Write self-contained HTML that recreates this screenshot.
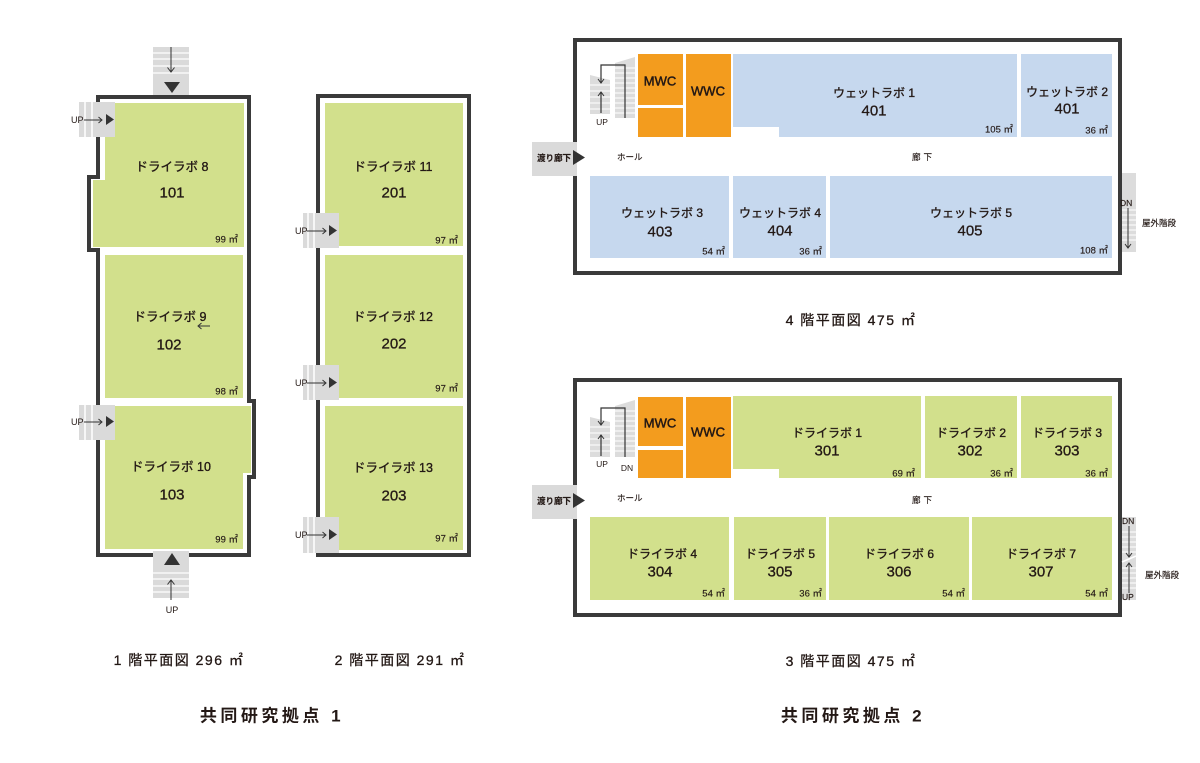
<!DOCTYPE html>
<html><head><meta charset="utf-8">
<style>
html,body{margin:0;padding:0;background:#fff;}
svg{display:block;}
text{font-family:"Liberation Sans","Noto Sans CJK JP",sans-serif;fill:#231815;}
.k{font-size:12.5px;text-anchor:middle;dominant-baseline:central;stroke:#231815;stroke-width:0.35px;}
.k2{font-size:12px;text-anchor:middle;dominant-baseline:central;stroke:#231815;stroke-width:0.35px;}
.n{font-size:15px;text-anchor:middle;dominant-baseline:central;stroke:#231815;stroke-width:0.3px;}
.a{font-size:9.5px;text-anchor:end;dominant-baseline:central;stroke:#231815;stroke-width:0.15px;}
.s{font-size:8.5px;dominant-baseline:central;stroke:#231815;stroke-width:0.15px;}
.sm{font-size:8.5px;text-anchor:middle;dominant-baseline:central;}
.up{font-size:9px;dominant-baseline:central;}
.wc{font-size:13px;text-anchor:middle;dominant-baseline:central;stroke:#231815;stroke-width:0.45px;}
.cap{font-size:14px;text-anchor:middle;dominant-baseline:central;letter-spacing:1.5px;stroke:#231815;stroke-width:0.3px;}
.ttl{font-size:17px;font-weight:bold;text-anchor:middle;dominant-baseline:central;letter-spacing:3.5px;}
</style></head><body>
<svg width="1200" height="763" viewBox="0 0 1200 763" xmlns="http://www.w3.org/2000/svg">
<rect x="0" y="0" width="1200" height="763" fill="#fff"/>

<!-- ===== 1F building ===== -->
<polygon points="105,103 244,103 244,247 93,247 93,180 105,180" fill="#d2e08c"/>
<rect x="105" y="255" width="138" height="143" fill="#d2e08c"/>
<polygon points="105,406 251,406 251,473 243,473 243,549 105,549" fill="#d2e08c"/>
<path d="M98,97 H249 V401 H254 V477 H249 V555 H98 V250 H89 V177 H98 Z" fill="none" stroke="#3a3a3a" stroke-width="4" stroke-linejoin="miter"/>

<!-- top stair -->
<rect x="153" y="47" width="36" height="48" fill="#dadada"/>
<g stroke="#fff" stroke-width="1.3"><line x1="153" y1="53" x2="189" y2="53"/><line x1="153" y1="59" x2="189" y2="59"/><line x1="153" y1="66" x2="189" y2="66"/><line x1="153" y1="73" x2="189" y2="73"/></g>
<line x1="171" y1="47" x2="171" y2="72" stroke="#333" stroke-width="1"/>
<polyline points="167.5,67.5 171,72 174.5,67.5" fill="none" stroke="#333" stroke-width="1"/>
<polygon points="164,82 180,82 172,93" fill="#333"/>

<!-- bottom stair -->
<rect x="153" y="551" width="36" height="47" fill="#dadada"/>
<g stroke="#fff" stroke-width="1.3"><line x1="153" y1="573" x2="189" y2="573"/><line x1="153" y1="579" x2="189" y2="579"/><line x1="153" y1="586" x2="189" y2="586"/><line x1="153" y1="592" x2="189" y2="592"/></g>
<polygon points="164,565 180,565 172,553" fill="#333"/>
<line x1="171" y1="580" x2="171" y2="600" stroke="#333" stroke-width="1"/>
<polyline points="167.5,584.5 171,580 174.5,584.5" fill="none" stroke="#333" stroke-width="1"/>
<text class="up" x="172" y="610" text-anchor="middle">UP</text>

<!-- left UP stairs 1F -->
<g>
<rect x="79" y="102" width="36" height="35" fill="#dadada"/>
<line x1="85" y1="102" x2="85" y2="137" stroke="#fff" stroke-width="1.5"/>
<line x1="92" y1="102" x2="92" y2="137" stroke="#fff" stroke-width="1.5"/>
<line x1="84" y1="120" x2="102" y2="120" stroke="#333" stroke-width="1"/>
<polyline points="98.5,117 102,120 98.5,123" fill="none" stroke="#333" stroke-width="1"/>
<polygon points="106,114 114,119.5 106,125" fill="#333"/>
<text class="up" x="71" y="120">UP</text>
</g>
<g>
<rect x="79" y="405" width="36" height="35" fill="#dadada"/>
<line x1="85" y1="405" x2="85" y2="440" stroke="#fff" stroke-width="1.5"/>
<line x1="92" y1="405" x2="92" y2="440" stroke="#fff" stroke-width="1.5"/>
<line x1="84" y1="422" x2="102" y2="422" stroke="#333" stroke-width="1"/>
<polyline points="98.5,419 102,422 98.5,425" fill="none" stroke="#333" stroke-width="1"/>
<polygon points="106,416 114,421.5 106,427" fill="#333"/>
<text class="up" x="71" y="422">UP</text>
</g>

<text class="k" x="172" y="167">ドライラボ 8</text>
<text class="n" x="172" y="193">101</text>
<text class="a" x="238" y="240">99 ㎡</text>
<text class="k" x="170" y="317">ドライラボ 9</text>
<line x1="198" y1="326" x2="210" y2="326" stroke="#333" stroke-width="1"/>
<polyline points="201.5,323 198,326 201.5,329" fill="none" stroke="#333" stroke-width="1"/>
<text class="n" x="169" y="345">102</text>
<text class="a" x="238" y="392">98 ㎡</text>
<text class="k" x="171" y="467">ドライラボ 10</text>
<text class="n" x="172" y="495">103</text>
<text class="a" x="238" y="540">99 ㎡</text>

<!-- ===== 2F building ===== -->
<rect x="325" y="103" width="138" height="143" fill="#d2e08c"/>
<rect x="325" y="255" width="138" height="143" fill="#d2e08c"/>
<rect x="325" y="406" width="138" height="144" fill="#d2e08c"/>
<rect x="318" y="96" width="151" height="459" fill="none" stroke="#3a3a3a" stroke-width="4"/>

<g>
<rect x="303" y="213" width="36" height="35" fill="#dadada"/>
<line x1="308" y1="213" x2="308" y2="248" stroke="#fff" stroke-width="1.5"/>
<line x1="314" y1="213" x2="314" y2="248" stroke="#fff" stroke-width="1.5"/>
<line x1="307" y1="231" x2="326" y2="231" stroke="#333" stroke-width="1"/>
<polyline points="322.5,228 326,231 322.5,234" fill="none" stroke="#333" stroke-width="1"/>
<polygon points="329,225 337,230.5 329,236" fill="#333"/>
<text class="up" x="295" y="231">UP</text>
</g>
<g>
<rect x="303" y="365" width="36" height="35" fill="#dadada"/>
<line x1="308" y1="365" x2="308" y2="400" stroke="#fff" stroke-width="1.5"/>
<line x1="314" y1="365" x2="314" y2="400" stroke="#fff" stroke-width="1.5"/>
<line x1="307" y1="383" x2="326" y2="383" stroke="#333" stroke-width="1"/>
<polyline points="322.5,380 326,383 322.5,386" fill="none" stroke="#333" stroke-width="1"/>
<polygon points="329,377 337,382.5 329,388" fill="#333"/>
<text class="up" x="295" y="383">UP</text>
</g>
<g>
<rect x="303" y="517" width="36" height="36" fill="#dadada"/>
<line x1="308" y1="517" x2="308" y2="553" stroke="#fff" stroke-width="1.5"/>
<line x1="314" y1="517" x2="314" y2="553" stroke="#fff" stroke-width="1.5"/>
<line x1="307" y1="535" x2="326" y2="535" stroke="#333" stroke-width="1"/>
<polyline points="322.5,532 326,535 322.5,538" fill="none" stroke="#333" stroke-width="1"/>
<polygon points="329,529 337,534.5 329,540" fill="#333"/>
<text class="up" x="295" y="535">UP</text>
</g>

<text class="k" x="393" y="167">ドライラボ 11</text>
<text class="n" x="394" y="193">201</text>
<text class="a" x="458" y="241">97 ㎡</text>
<text class="k" x="393" y="317">ドライラボ 12</text>
<text class="n" x="394" y="344">202</text>
<text class="a" x="458" y="389">97 ㎡</text>
<text class="k" x="393" y="468">ドライラボ 13</text>
<text class="n" x="394" y="496">203</text>
<text class="a" x="458" y="539">97 ㎡</text>

<text class="cap" x="179" y="660">1 階平面図 296 ㎡</text>
<text class="cap" x="400" y="660">2 階平面図 291 ㎡</text>
<text class="ttl" x="272" y="716">共同研究拠点 1</text>

<!-- ===== 4F ===== -->
<rect x="575" y="40" width="545" height="233" fill="none" stroke="#3a3a3a" stroke-width="4"/>
<rect x="638" y="54" width="45" height="51" fill="#f39c1e"/>
<rect x="638" y="108" width="45" height="29" fill="#f39c1e"/>
<rect x="686" y="54" width="45" height="83" fill="#f39c1e"/>
<polygon points="733,54 1017,54 1017,137 779,137 779,127 733,127" fill="#c6d8ee"/>
<rect x="1021" y="54" width="91" height="83" fill="#c6d8ee"/>
<rect x="590" y="176" width="139" height="82" fill="#c6d8ee"/>
<rect x="733" y="176" width="93" height="82" fill="#c6d8ee"/>
<rect x="830" y="176" width="282" height="82" fill="#c6d8ee"/>

<!-- inner stair 4F -->
<polygon points="590,75 610,80 610,114 590,114" fill="#dcdcdc"/>
<polygon points="615,63 635,57 635,118 615,118" fill="#dcdcdc"/>
<g stroke="#fff" stroke-width="1">
<line x1="590" y1="85" x2="610" y2="85"/><line x1="590" y1="91" x2="610" y2="91"/><line x1="590" y1="97" x2="610" y2="97"/><line x1="590" y1="103" x2="610" y2="103"/><line x1="590" y1="109" x2="610" y2="109"/>
<line x1="615" y1="68" x2="635" y2="68"/><line x1="615" y1="73" x2="635" y2="73"/><line x1="615" y1="78" x2="635" y2="78"/><line x1="615" y1="83" x2="635" y2="83"/><line x1="615" y1="88" x2="635" y2="88"/><line x1="615" y1="93" x2="635" y2="93"/><line x1="615" y1="98" x2="635" y2="98"/><line x1="615" y1="103" x2="635" y2="103"/><line x1="615" y1="108" x2="635" y2="108"/><line x1="615" y1="113" x2="635" y2="113"/>
</g>
<polyline points="625,118 625,65 601,65 601,83" fill="none" stroke="#333" stroke-width="1.2"/>
<polyline points="598,79 601,83 604,79" fill="none" stroke="#333" stroke-width="1"/>
<line x1="601" y1="113" x2="601" y2="92" stroke="#333" stroke-width="1.2"/>
<polyline points="598,96 601,92 604,96" fill="none" stroke="#333" stroke-width="1"/>
<text class="sm" x="602" y="122">UP</text>

<!-- walkway 4F -->
<rect x="532" y="142" width="45" height="34" fill="#dadada"/>
<polygon points="573,150 585,157.5 573,165" fill="#333"/>
<text class="s" x="537" y="158" font-weight="bold">渡り廊下</text>

<!-- outdoor stair 4F -->
<rect x="1122" y="173" width="14" height="79" fill="#dcdcdc"/>
<g stroke="#fff" stroke-width="1">
<line x1="1122" y1="210" x2="1136" y2="210"/><line x1="1122" y1="215" x2="1136" y2="215"/><line x1="1122" y1="220" x2="1136" y2="220"/><line x1="1122" y1="225" x2="1136" y2="225"/><line x1="1122" y1="230" x2="1136" y2="230"/><line x1="1122" y1="235" x2="1136" y2="235"/><line x1="1122" y1="240" x2="1136" y2="240"/>
</g>
<line x1="1128" y1="208" x2="1128" y2="248" stroke="#333" stroke-width="1"/>
<polyline points="1125,244 1128,248 1131,244" fill="none" stroke="#333" stroke-width="1"/>
<text class="s" x="1120" y="203">DN</text>
<text class="s" x="1142" y="223">屋外階段</text>

<text class="wc" x="660" y="81">MWC</text>
<text class="wc" x="708" y="91">WWC</text>
<text class="k2" x="874" y="93">ウェットラボ 1</text>
<text class="n" x="874" y="111">401</text>
<text class="a" x="1013" y="130">105 ㎡</text>
<text class="k2" x="1067" y="92">ウェットラボ 2</text>
<text class="n" x="1067" y="109">401</text>
<text class="a" x="1108" y="131">36 ㎡</text>
<text class="s" x="617" y="157">ホール</text>
<text class="s" x="912" y="157" letter-spacing="3">廊下</text>
<text class="k2" x="662" y="213">ウェットラボ 3</text>
<text class="n" x="660" y="232">403</text>
<text class="a" x="725" y="252">54 ㎡</text>
<text class="k2" x="780" y="213">ウェットラボ 4</text>
<text class="n" x="780" y="231">404</text>
<text class="a" x="822" y="252">36 ㎡</text>
<text class="k2" x="971" y="213">ウェットラボ 5</text>
<text class="n" x="970" y="231">405</text>
<text class="a" x="1108" y="251">108 ㎡</text>

<text class="cap" x="851" y="320">4 階平面図 475 ㎡</text>

<!-- ===== 3F ===== -->
<rect x="575" y="380" width="545" height="235" fill="none" stroke="#3a3a3a" stroke-width="4"/>
<rect x="638" y="397" width="45" height="49" fill="#f39c1e"/>
<rect x="638" y="450" width="45" height="28" fill="#f39c1e"/>
<rect x="686" y="397" width="45" height="81" fill="#f39c1e"/>
<polygon points="733,396 921,396 921,478 779,478 779,469 733,469" fill="#d2e08c"/>
<rect x="925" y="396" width="92" height="82" fill="#d2e08c"/>
<rect x="1021" y="396" width="91" height="82" fill="#d2e08c"/>
<rect x="590" y="517" width="139" height="83" fill="#d2e08c"/>
<rect x="734" y="517" width="92" height="83" fill="#d2e08c"/>
<rect x="829" y="517" width="140" height="83" fill="#d2e08c"/>
<rect x="972" y="517" width="140" height="83" fill="#d2e08c"/>

<!-- inner stair 3F -->
<polygon points="590,417 610,422 610,457 590,457" fill="#dcdcdc"/>
<polygon points="615,406 635,400 635,457 615,457" fill="#dcdcdc"/>
<g stroke="#fff" stroke-width="1">
<line x1="590" y1="427" x2="610" y2="427"/><line x1="590" y1="433" x2="610" y2="433"/><line x1="590" y1="439" x2="610" y2="439"/><line x1="590" y1="445" x2="610" y2="445"/><line x1="590" y1="451" x2="610" y2="451"/>
<line x1="615" y1="411" x2="635" y2="411"/><line x1="615" y1="416" x2="635" y2="416"/><line x1="615" y1="421" x2="635" y2="421"/><line x1="615" y1="426" x2="635" y2="426"/><line x1="615" y1="431" x2="635" y2="431"/><line x1="615" y1="436" x2="635" y2="436"/><line x1="615" y1="441" x2="635" y2="441"/><line x1="615" y1="446" x2="635" y2="446"/><line x1="615" y1="451" x2="635" y2="451"/>
</g>
<polyline points="625,457 625,408 601,408 601,425" fill="none" stroke="#333" stroke-width="1.2"/>
<polyline points="598,421 601,425 604,421" fill="none" stroke="#333" stroke-width="1"/>
<line x1="601" y1="456" x2="601" y2="435" stroke="#333" stroke-width="1.2"/>
<polyline points="598,439 601,435 604,439" fill="none" stroke="#333" stroke-width="1"/>
<text class="sm" x="602" y="464">UP</text>
<text class="sm" x="627" y="468">DN</text>

<!-- walkway 3F -->
<rect x="532" y="485" width="45" height="34" fill="#dadada"/>
<polygon points="573,493 585,500.5 573,508" fill="#333"/>
<text class="s" x="537" y="501" font-weight="bold">渡り廊下</text>

<!-- outdoor stair 3F -->
<rect x="1122" y="517" width="14" height="83" fill="#dcdcdc"/>
<g stroke="#fff" stroke-width="1">
<line x1="1122" y1="532" x2="1136" y2="532"/><line x1="1122" y1="537" x2="1136" y2="537"/><line x1="1122" y1="542" x2="1136" y2="542"/><line x1="1122" y1="547" x2="1136" y2="547"/><line x1="1122" y1="552" x2="1136" y2="552"/>
<line x1="1122" y1="562" x2="1136" y2="556" stroke-width="1.5"/>
<line x1="1122" y1="568" x2="1136" y2="568"/><line x1="1122" y1="573" x2="1136" y2="573"/><line x1="1122" y1="578" x2="1136" y2="578"/><line x1="1122" y1="583" x2="1136" y2="583"/><line x1="1122" y1="588" x2="1136" y2="588"/>
</g>
<line x1="1129" y1="526" x2="1129" y2="557" stroke="#333" stroke-width="1"/>
<polyline points="1126,553 1129,557 1132,553" fill="none" stroke="#333" stroke-width="1"/>
<line x1="1129" y1="593" x2="1129" y2="563" stroke="#333" stroke-width="1"/>
<polyline points="1126,567 1129,563 1132,567" fill="none" stroke="#333" stroke-width="1"/>
<text class="s" x="1122" y="521">DN</text>
<text class="s" x="1122" y="597">UP</text>
<text class="s" x="1145" y="575">屋外階段</text>

<text class="wc" x="660" y="423">MWC</text>
<text class="wc" x="708" y="432">WWC</text>
<text class="k2" x="827" y="433">ドライラボ 1</text>
<text class="n" x="827" y="451">301</text>
<text class="a" x="915" y="474">69 ㎡</text>
<text class="k2" x="971" y="433">ドライラボ 2</text>
<text class="n" x="970" y="451">302</text>
<text class="a" x="1013" y="474">36 ㎡</text>
<text class="k2" x="1067" y="433">ドライラボ 3</text>
<text class="n" x="1067" y="451">303</text>
<text class="a" x="1108" y="474">36 ㎡</text>
<text class="s" x="617" y="498">ホール</text>
<text class="s" x="912" y="500" letter-spacing="3">廊下</text>
<text class="k2" x="662" y="554">ドライラボ 4</text>
<text class="n" x="660" y="572">304</text>
<text class="a" x="725" y="594">54 ㎡</text>
<text class="k2" x="780" y="554">ドライラボ 5</text>
<text class="n" x="780" y="572">305</text>
<text class="a" x="822" y="594">36 ㎡</text>
<text class="k2" x="899" y="554">ドライラボ 6</text>
<text class="n" x="899" y="572">306</text>
<text class="a" x="965" y="594">54 ㎡</text>
<text class="k2" x="1041" y="554">ドライラボ 7</text>
<text class="n" x="1041" y="572">307</text>
<text class="a" x="1108" y="594">54 ㎡</text>

<text class="cap" x="851" y="661">3 階平面図 475 ㎡</text>
<text class="ttl" x="853" y="716">共同研究拠点 2</text>
</svg>
</body></html>
